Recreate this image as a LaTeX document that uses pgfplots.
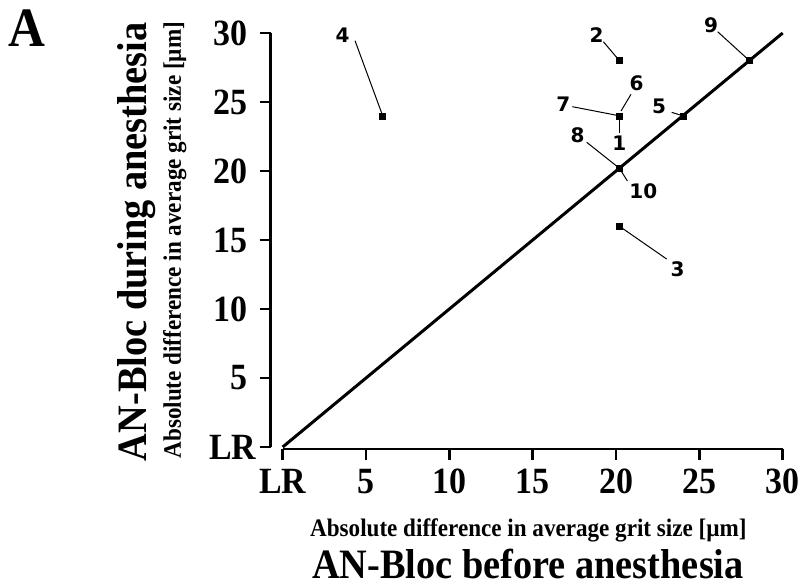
\documentclass[border=0pt]{standalone}
\usepackage{pgfplots}
\pgfplotsset{compat=1.18}
\usepackage{fontspec}
\setmainfont{Liberation Serif}[FakeStretch=0.917]
\newfontfamily\labfont{DejaVu Sans}
\newcommand\ticksfont{\bfseries\fontsize{37}{42}\selectfont}
\newcommand\lab{\labfont\bfseries\fontsize{20}{22}\selectfont}
\begin{document}
\begin{tikzpicture}
\useasboundingbox (-282.7pt,-137pt) rectangle (520.3pt,447pt);
\begin{axis}[
  at={(0pt,0pt)}, anchor=south west,
  width=500pt, height=414pt, scale only axis,
  xmin=0, xmax=30, ymin=0, ymax=30,
  axis lines=left,
  axis line style={line width=2.5pt,-},
  axis y line shift=12pt, axis x line shift=2pt,
  tick align=outside, major tick length=11pt,
  tick style={line width=2.5pt,black},
  xtick={0,5,10,15,20,25,30}, xticklabels={LR,5,10,15,20,25,30},
  ytick={0,5,10,15,20,25,30}, yticklabels={LR\hspace*{-9pt},5,10,15,20,25,30},
  xticklabel style={font=\ticksfont, inner sep=0pt, anchor=north, yshift=-9pt},
  yticklabel style={font=\ticksfont, inner sep=0pt, anchor=east, xshift=-12pt},
  clip=false,
]
\addplot[line width=3pt, black] coordinates {(0,0) (30,30)};
\draw[line width=1pt] (axis cs:19.24,29.37) -- (axis cs:20.2,28);
\draw[line width=1pt] (axis cs:20.90,25.56) -- (axis cs:20.30,24.35);
\draw[line width=1pt] (axis cs:17.38,24.66) -- (axis cs:20.2,24);
\draw[line width=1pt] (axis cs:20.2,23.75) -- (axis cs:20.2,22.75);
\draw[line width=1pt] (axis cs:23.34,24.25) -- (axis cs:24,24);
\draw[line width=1pt] (axis cs:26.1,30.09) -- (axis cs:28,28);
\draw[line width=1pt] (axis cs:18.24,22.08) -- (axis cs:20.2,20.2);
\draw[line width=1pt] (axis cs:20.68,19.28) -- (axis cs:20.2,20.2);
\draw[line width=1pt] (axis cs:23.04,13.62) -- (axis cs:20.2,16);
\draw[line width=1pt] (axis cs:4.34,29.44) -- (axis cs:6,24);
\addplot[only marks, mark=square*, mark size=3pt, black] coordinates {
 (20.2,24) (20.2,28) (20.2,16) (6,24) (24,24) (20.2,24) (20.2,24) (20.2,20.2) (28,28) (20.2,20.2)};
\node[font=\lab] at (axis cs:20.2,22.0) {1};
\node[font=\lab] at (axis cs:18.84,29.86) {2};
\node[font=\lab] at (axis cs:23.70,12.88) {3};
\node[font=\lab] at (axis cs:3.6,29.86) {4};
\node[font=\lab] at (axis cs:22.58,24.71) {5};
\node[font=\lab] at (axis cs:21.24,26.36) {6};
\node[font=\lab] at (axis cs:16.84,24.83) {7};
\node[font=\lab] at (axis cs:17.70,22.61) {8};
\node[font=\lab] at (axis cs:25.70,30.58) {9};
\node[font=\lab] at (axis cs:21.64,18.5) {10};
\end{axis}
\node[anchor=base, inner sep=0pt, font=\bfseries\fontsize{25.2}{28}\selectfont] at (245.7pt,-89.7pt) {Absolute difference in average grit size [µm]};
\node[anchor=base, inner sep=0pt, font=\bfseries\fontsize{41.8}{46}\selectfont] at (245.3pt,-131.5pt) {AN-Bloc before anesthesia};
\node[anchor=base, rotate=90, inner sep=0pt, font=\bfseries\fontsize{25.2}{28}\selectfont] at (-101.7pt,206.8pt) {Absolute difference in average grit size [µm]};
\node[anchor=base, rotate=90, inner sep=0pt, font=\bfseries\fontsize{41.8}{46}\selectfont] at (-136pt,205.3pt) {AN-Bloc during anesthesia};
\node[anchor=north west, inner sep=0pt, font=\bfseries\fontsize{55.6}{60}\selectfont] at (-274.7pt,437pt) {A};
\end{tikzpicture}
\end{document}
